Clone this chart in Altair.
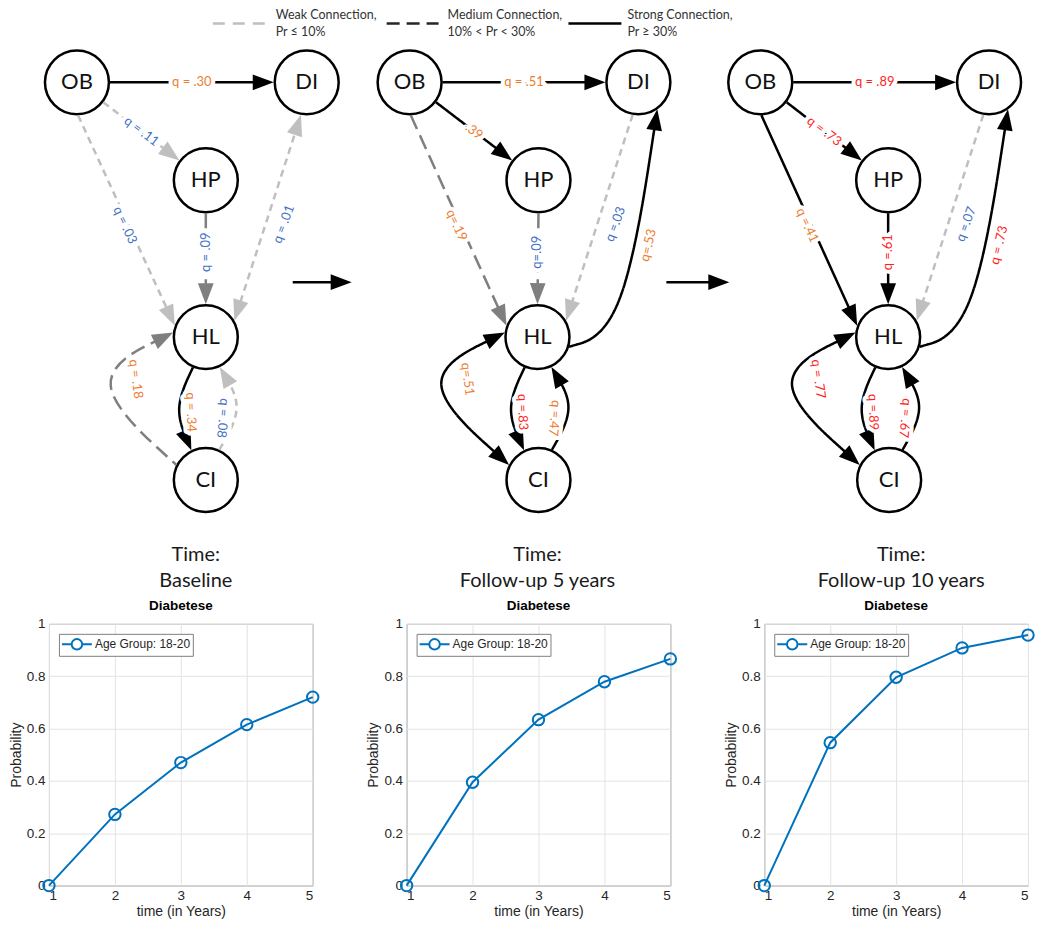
import math
import altair as alt
import pandas as pd

# ------------------------------------------------------------------ data
years = [1, 2, 3, 4, 5]
prob_baseline = [0.0, 0.272, 0.470, 0.615, 0.720]
prob_5y = [0.0, 0.395, 0.634, 0.779, 0.866]
prob_10y = [0.0, 0.546, 0.796, 0.908, 0.957]
series_name = "Age Group: 18-20"
panel_title = "Diabetese"
x_title = "time (in Years)"
y_title = "Probability"
y_tick_values = [0, 0.2, 0.4, 0.6, 0.8, 1]

time_head = "Time:"
time_names = ["Baseline", "Follow-up 5 years", "Follow-up 10 years"]

node_names = ["OB", "DI", "HP", "HL", "CI"]

p1_routes = ["OB-DI", "OB-HP", "OB-HL", "DI-HL", "HP-HL", "outer", "inner-left", "inner-right"]
p1_strength = ["strong", "weak", "weak", "weak", "medium", "medium", "strong", "weak"]
p1_labels = ["q = .30", "q = .11", "q = .03", "q = .01", "q = .09", "q = .18", "q = .34", "q = .08"]
p1_label_tone = ["orange", "blue", "blue", "blue", "blue", "orange", "orange", "blue"]
p1_heads = ["end", "end", "end", "both", "end", "start", "end", "end"]

p2_routes = ["OB-DI", "OB-HP", "OB-HL", "DI-HL", "HP-HL", "HL-DI", "outer", "inner-left", "inner-right"]
p2_strength = ["strong", "strong", "medium", "weak", "medium", "strong", "strong", "strong", "strong"]
p2_labels = ["q = .51", ".39", "q=.19", "q =.03", "q=.09", "q=.53", "q=.51", "q =.83", "q =.47"]
p2_label_tone = ["orange", "orange", "orange", "blue", "blue", "orange", "orange", "red", "orange"]
p2_heads = ["end", "end", "end", "end", "end", "end", "both", "end", "end"]

p3_routes = ["OB-DI", "OB-HP", "OB-HL", "DI-HL", "HP-HL", "HL-DI", "outer", "inner-left", "inner-right"]
p3_strength = ["strong", "strong", "strong", "weak", "strong", "strong", "strong", "strong", "strong"]
p3_labels = ["q = .89", "q = .73", "q =.41", "q =.07", "q =.61", "q = .73", "q = .77", "q =.89", "q = .67"]
p3_label_tone = ["red", "red", "orange", "blue", "red", "red", "red", "red", "red"]
p3_heads = ["end", "end", "end", "end", "end", "end", "both", "end", "end"]

legend_styles = ["weak", "medium", "strong"]
legend_line1 = ["Weak Connection,", "Medium Connection,", "Strong Connection,"]
legend_line2 = ["Pr \u2264 10%", "10% < Pr < 30%", "Pr \u2265 30%"]

# ------------------------------------------------------------------ layout / style
NODE_R = 33
panel_node_x = [[77, 307, 206, 206, 206], [410, 639, 539, 538, 539], [761, 990, 889, 889, 890]]
node_y = [82, 82, 180, 337, 480]
time_x = [196, 538, 902]
time_y = [555, 581]

# src/dst port angles (deg, screen), control point relative to HL, label offset relative to HL, label angle
ROUTES = {
    "OB-DI": dict(src="OB", dst="DI", a0=0, a1=180, ctrl=None, lab=None, ang=0),
    "OB-HP": dict(src="OB", dst="HP", a0=37, a1=217, ctrl=None, lab=None, ang=37),
    "OB-HL": dict(src="OB", dst="HL", a0=88, a1=200, ctrl=None, lab=(-81, -112), ang=65),
    "DI-HL": dict(src="DI", dst="HL", a0=100, a1=330, ctrl=None, lab=(78, -113), ang=290),
    "HP-HL": dict(src="HP", dst="HL", a0=90, a1=270, ctrl=None, lab=(0, -85), ang=270),
    "HL-DI": dict(src="HL", dst="DI", a0=17, a1=55, ctrl=(86, -6), lab=(111, -92), ang=283),
    "outer": dict(src="HL", dst="CI", a0=188, a1=207, ctrl=(-125, 41), lab=(-70, 42), ang=82),
    "inner-left": dict(src="HL", dst="CI", a0=113, a1=244, ctrl=(-32, 71), lab=(-15, 75), ang=88),
    "inner-right": dict(src="CI", dst="HL", a0=294, a1=65, ctrl=(38, 71), lab=(17, 81), ang=95),
}
STYLE_COLOR = {"weak": "#BFBFBF", "medium": "#7F7F7F", "strong": "#000000"}
TONE_COLOR = {"orange": "#ED7D31", "blue": "#4472C4", "red": "#FF1F1F"}
ARROW_PATH = "M0,-1L0.75,1L-0.75,1Z"
HEAD_LEN = 21
TRIM = 10
legend_rule_x = [(213, 265), (387, 439), (569, 622)]
legend_rule_color = ["#BFBFBF", "#262626", "#000000"]
legend_text_x = [276, 448, 628]
legend_y = (15, 32, 23)
transition_x = [(293, 352), (667, 730)]
transition_y = 282

# the diagram's origin sits to the right of the bottom row's y-axis band
AXIS_BAND = 41
X0, X1, Y0, Y1 = 8 + AXIS_BAND, 1042, 9, 596


def unit(dx, dy):
    n = math.hypot(dx, dy)
    return dx / n, dy / n


def heading(dx, dy):
    return math.degrees(math.atan2(dx, -dy)) % 360


def port(p, name, ang):
    i = node_names.index(name)
    a = math.radians(ang)
    return panel_node_x[p][i] + NODE_R * math.cos(a), node_y[i] + NODE_R * math.sin(a)


# ------------------------------------------------------------------ build network tables
line_rows, head_rows, label_rows, node_rows = [], [], [], []
panels = [
    (p1_routes, p1_strength, p1_labels, p1_label_tone, p1_heads),
    (p2_routes, p2_strength, p2_labels, p2_label_tone, p2_heads),
    (p3_routes, p3_strength, p3_labels, p3_label_tone, p3_heads),
]
eid = 0
for p, (routes, strength, labels, tones, heads) in enumerate(panels):
    for i, name in enumerate(node_names):
        node_rows.append(dict(x=panel_node_x[p][i], y=node_y[i], name=name))
    hx, hy = panel_node_x[p][3], node_y[3]
    for r, s, lab, tone, hd in zip(routes, strength, labels, tones, heads):
        g = ROUTES[r]
        p0 = port(p, g["src"], g["a0"])
        p2 = port(p, g["dst"], g["a1"])
        p1 = (hx + g["ctrl"][0], hy + g["ctrl"][1]) if g["ctrl"] else None
        ref_end = p1 if p1 else p0
        ref_start = p1 if p1 else p2
        ed = unit(p2[0] - ref_end[0], p2[1] - ref_end[1])
        sd = unit(p0[0] - ref_start[0], p0[1] - ref_start[1])
        a_pt, b_pt = p0, p2
        col = STYLE_COLOR[s]
        if hd in ("end", "both"):
            b_pt = (p2[0] - TRIM * ed[0], p2[1] - TRIM * ed[1])
            head_rows.append(dict(x=p2[0] - HEAD_LEN / 2 * ed[0], y=p2[1] - HEAD_LEN / 2 * ed[1],
                                  ang=heading(*ed), col=col))
        if hd in ("start", "both"):
            a_pt = (p0[0] - TRIM * sd[0], p0[1] - TRIM * sd[1])
            head_rows.append(dict(x=p0[0] - HEAD_LEN / 2 * sd[0], y=p0[1] - HEAD_LEN / 2 * sd[1],
                                  ang=heading(*sd), col=col))
        pts = [a_pt] + ([p1] if p1 else []) + [b_pt]
        for k, (x, y) in enumerate(pts):
            line_rows.append(dict(eid=eid, k=k, x=x, y=y, style=s, col=col))
        if g["lab"] is None:
            lx, ly = (p0[0] + p2[0]) / 2, (p0[1] + p2[1]) / 2
        else:
            lx, ly = hx + g["lab"][0], hy + g["lab"][1]
        label_rows.append(dict(x=lx, y=ly, ang=g["ang"], text=lab, col=TONE_COLOR[tone]))
        eid += 1

for (xa, xb) in transition_x:
    line_rows.append(dict(eid=eid, k=0, x=xa, y=transition_y, style="strong", col="#000000"))
    line_rows.append(dict(eid=eid, k=1, x=xb - TRIM, y=transition_y, style="strong", col="#000000"))
    head_rows.append(dict(x=xb - HEAD_LEN / 2, y=transition_y, ang=90, col="#000000"))
    eid += 1

lines_df = pd.DataFrame(line_rows)
heads_df = pd.DataFrame(head_rows)
labels_df = pd.DataFrame(label_rows)
nodes_df = pd.DataFrame(node_rows)

leg_df = pd.DataFrame(dict(
    x=[a for a, b in legend_rule_x], x2=[b for a, b in legend_rule_x], y=[legend_y[2]] * 3,
    style=["lg-" + s for s in legend_styles], col=legend_rule_color,
    tx=legend_text_x, t1=legend_line1, t2=legend_line2, y1=[legend_y[0]] * 3, y2=[legend_y[1]] * 3,
))
time_df = pd.DataFrame(dict(x=time_x, head=[time_head] * 3, name=time_names,
                            y1=[time_y[0]] * 3, y2=[time_y[1]] * 3))

XS = alt.Scale(domain=[X0, X1], nice=False, zero=False)
YS = alt.Scale(domain=[Y0, Y1], nice=False, zero=False, reverse=True)
dash_scale = alt.Scale(
    domain=["weak", "medium", "strong", "lg-weak", "lg-medium", "lg-strong"],
    range=[[7, 5], [15, 7], [1, 0], [12, 8], [13, 7], [1, 0]],
)


def X(f):
    return alt.X(f, scale=XS, axis=None)


def Y(f):
    return alt.Y(f, scale=YS, axis=None)


leg_rules = alt.Chart(leg_df).mark_rule(strokeWidth=2.5).encode(
    x=X("x:Q"), x2="x2:Q", y=Y("y:Q"),
    color=alt.Color("col:N", scale=None),
    strokeDash=alt.StrokeDash("style:N", scale=dash_scale, legend=None),
)
leg_t1 = alt.Chart(leg_df).mark_text(align="left", baseline="middle", font="Lato", fontSize=12.5,
                                      color="#333333").encode(x=X("tx:Q"), y=Y("y1:Q"), text="t1:N")
leg_t2 = alt.Chart(leg_df).mark_text(align="left", baseline="middle", font="Lato", fontSize=12.5,
                                      color="#333333").encode(x=X("tx:Q"), y=Y("y2:Q"), text="t2:N")

nodes = alt.Chart(nodes_df).mark_point(shape="circle", size=64 * 64, filled=True, fill="white",
                                       stroke="black", strokeWidth=2.5, opacity=1).encode(
    x=X("x:Q"), y=Y("y:Q"))
node_text = alt.Chart(nodes_df).mark_text(font="Lato", fontSize=22, color="#111111",
                                          baseline="middle").encode(x=X("x:Q"), y=Y("y:Q"), text="name:N")

edges = alt.Chart(lines_df).mark_line(interpolate="basis", strokeWidth=2.5).encode(
    x=X("x:Q"), y=Y("y:Q"), detail="eid:N", order="k:Q",
    color=alt.Color("col:N", scale=None),
    strokeDash=alt.StrokeDash("style:N", scale=dash_scale, legend=None),
)
heads = alt.Chart(heads_df).mark_point(shape=ARROW_PATH, size=HEAD_LEN * HEAD_LEN, filled=True,
                                       opacity=1, strokeWidth=0).encode(
    x=X("x:Q"), y=Y("y:Q"), angle=alt.Angle("ang:Q", scale=None),
    color=alt.Color("col:N", scale=None),
)
halo = alt.Chart(labels_df).mark_text(font="Lato", fontSize=13, baseline="middle", color="white",
                                      stroke="white", strokeWidth=8, strokeJoin="round").encode(
    x=X("x:Q"), y=Y("y:Q"), text="text:N", angle=alt.Angle("ang:Q", scale=None))
labels = alt.Chart(labels_df).mark_text(font="Lato", fontSize=13, baseline="middle").encode(
    x=X("x:Q"), y=Y("y:Q"), text="text:N", angle=alt.Angle("ang:Q", scale=None),
    color=alt.Color("col:N", scale=None))

time1 = alt.Chart(time_df).mark_text(font="Lato", fontSize=20, color="#1a1a1a", baseline="middle").encode(
    x=X("x:Q"), y=Y("y1:Q"), text="head:N")
time2 = alt.Chart(time_df).mark_text(font="Lato", fontSize=20, color="#1a1a1a", baseline="middle").encode(
    x=X("x:Q"), y=Y("y2:Q"), text="name:N")

top = alt.layer(leg_rules, leg_t1, leg_t2, nodes, node_text, edges, heads, halo, labels, time1, time2).properties(
    width=X1 - X0, height=Y1 - Y0, view=alt.ViewBackground(stroke="transparent"))

# legend glyph: line with an open circle, drawn to the right of the symbol box
LEG_SYMBOL = "M-1,0L0.3,0M1.7,0L3,0M1.7,0A0.7,0.7 0 1 1 0.3,0A0.7,0.7 0 1 1 1.7,0"


def line_panel(values):
    df = pd.DataFrame({"t": years, "p": values, "s": [series_name] * len(years)})
    base = alt.Chart(df).encode(
        x=alt.X("t:Q", scale=alt.Scale(domain=[1, 5], nice=False, zero=False),
                axis=alt.Axis(values=years, format="d", title=x_title, grid=True, ticks=False,
                              domain=False, labelPadding=3, titlePadding=2)),
        y=alt.Y("p:Q", scale=alt.Scale(domain=[0, 1], nice=False, zero=False),
                axis=alt.Axis(values=y_tick_values, format="~g", title=y_title, grid=True, ticks=False,
                              domain=False, labelPadding=4, titlePadding=3)),
        color=alt.Color("s:N", scale=alt.Scale(domain=[series_name], range=["#0072BD"]),
                        legend=alt.Legend(title=None, orient="top-left", offset=10, fillColor="white",
                                          strokeColor="#808080", padding=2, labelFont="Liberation Sans",
                                          labelFontSize=12, labelColor="#262626", symbolType=LEG_SYMBOL,
                                          symbolSize=15 * 15, symbolStrokeWidth=2, labelOffset=17)),
    )
    line = base.mark_line(strokeWidth=2)
    pts = base.mark_point(filled=False, size=130, strokeWidth=2, opacity=1)
    return alt.layer(line, pts).properties(
        width=264, height=262,
        title=alt.TitleParams(panel_title, fontSize=13.5, fontWeight="bold", font="Liberation Sans",
                              offset=4, color="#000000"),
        view=alt.ViewBackground(stroke="#808080", strokeWidth=1),
    )


bottom = alt.hconcat(line_panel(prob_baseline), line_panel(prob_5y), line_panel(prob_10y), spacing=42
                     ).resolve_scale(color="independent").resolve_legend(color="independent")

chart = alt.vconcat(top, bottom, spacing=28, bounds="flush").resolve_scale(
    color="independent").resolve_legend(color="independent").properties(padding=0).configure_axis(
    labelFont="Liberation Sans", titleFont="Liberation Sans", labelFontSize=13.5, titleFontSize=14,
    labelColor="#262626", titleColor="#262626", gridColor="#E3E3E3", titleFontWeight="normal",
)

chart.save("out.html", embed_options={"renderer": "svg", "actions": False})
